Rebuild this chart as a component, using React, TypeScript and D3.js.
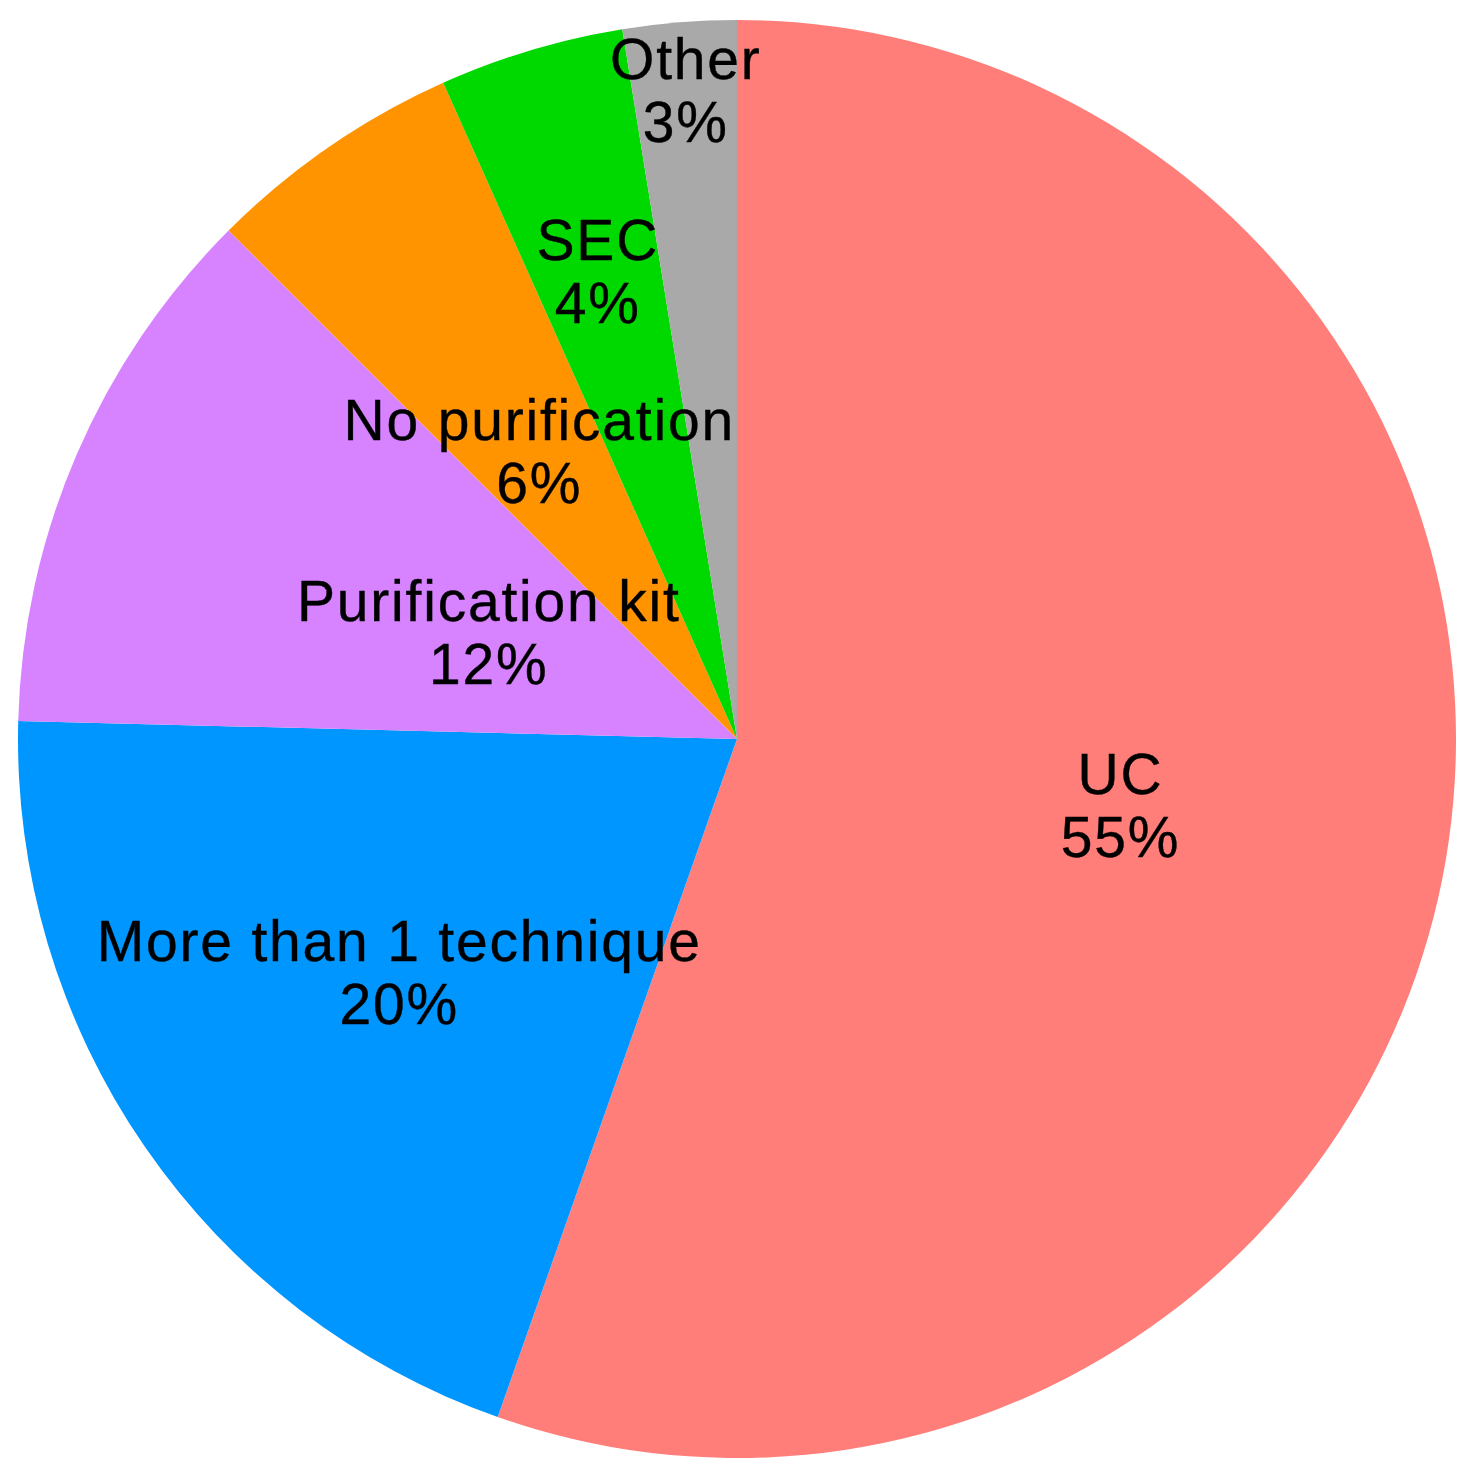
import { useEffect, useRef } from 'react';
import * as d3 from 'd3';

// slices, clockwise from 12 o'clock
const categories = ['UC', 'More than 1 technique', 'Purification kit', 'No purification', 'SEC', 'Other'];
// shares
const shares = [55.4, 20.0, 12.1, 5.8, 4.15, 2.55];
// percentages printed on the chart
const percentLabels = ['55%', '20%', '12%', '6%', '4%', '3%'];
const colors = ['#FF7E79', '#0096FF', '#D783FF', '#FF9300', '#00D900', '#A9A9A9'];

// how far out each label sits, as a fraction of the radius
const labelRadius = [0.54, 0.572, 0.377, 0.487, 0.68, 0.905];

const WIDTH = 1476;
const HEIGHT = 1479;

export default function App() {
  const svgRef = useRef<SVGSVGElement>(null);

  useEffect(() => {
    if (!svgRef.current) return;
    const svg = d3.select(svgRef.current);
    svg.selectAll('*').remove();

    const cx = 737;
    const cy = 739;
    const radius = 719;

    const data = categories.map((name, i) => ({ name, value: shares[i], pct: percentLabels[i], i }));

    const pie = d3
      .pie<(typeof data)[number]>()
      .value((d) => d.value)
      .sort(null);

    const arcs = pie(data);
    const arc = d3.arc<d3.PieArcDatum<(typeof data)[number]>>().innerRadius(0).outerRadius(radius);

    const g = svg.append('g').attr('transform', `translate(${cx},${cy})`);

    g.selectAll('path.slice')
      .data(arcs)
      .join('path')
      .attr('class', 'slice')
      .attr('d', arc)
      .attr('fill', (d) => colors[d.data.i]);

    const spacing = 1.8;
    const lineGap = 63;
    const labels = g
      .selectAll('text.label')
      .data(arcs)
      .join('text')
      .attr('class', 'label')
      .attr('text-anchor', 'middle')
      .attr('font-family', '"Liberation Sans", Arial, Helvetica, sans-serif')
      .attr('font-size', 57)
      .attr('letter-spacing', spacing)
      .attr('fill', '#000')
      .attr('stroke', '#000')
      .attr('stroke-width', 0.4)
      .attr('transform', (d) => {
        const r = radius * labelRadius[d.data.i];
        const c = d3.arc<d3.PieArcDatum<(typeof data)[number]>>().innerRadius(r).outerRadius(r).centroid(d);
        return `translate(${c[0] + spacing / 2},${c[1]})`;
      });

    labels
      .append('tspan')
      .attr('x', 0)
      .attr('y', -11)
      .text((d) => d.data.name);

    labels
      .append('tspan')
      .attr('x', 0)
      .attr('y', -11 + lineGap)
      .text((d) => d.data.pct);
  }, []);

  return (
    <svg
      ref={svgRef}
      width={WIDTH}
      height={HEIGHT}
      style={{ position: 'absolute', left: 0, top: 0, background: '#fff' }}
    />
  );
}
